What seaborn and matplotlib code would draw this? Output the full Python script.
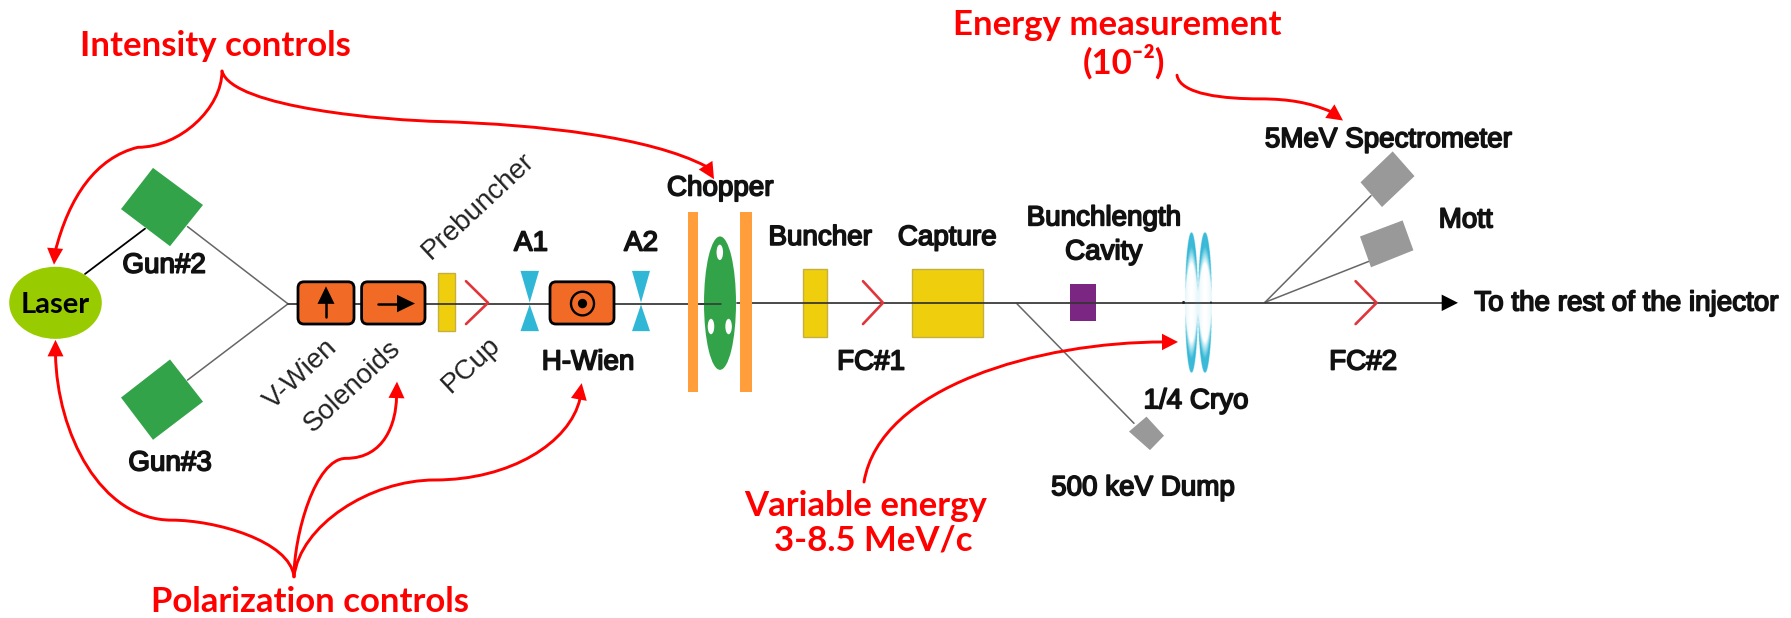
import numpy as np
import pandas as pd
import matplotlib
matplotlib.use("Agg")
import matplotlib.pyplot as plt
import matplotlib.patheffects as pe
import seaborn as sns
from matplotlib.path import Path
from matplotlib.patches import PathPatch, Polygon, Ellipse, Rectangle, FancyBboxPatch, Circle

# ---- diagram content -------------------------------------------------------
gray_lines = [[(187.5, 220), (288, 295)], [(187.5, 369), (288, 295)],
              [(1017, 295), (1134, 411)], [(1265, 293.5), (1371, 190)],
              [(1265, 293.5), (1369, 253.7)]]
black_lines = [[(85, 266), (145, 222)]]
beam_left = [(288, 294.7), (720.5, 294.7)]
beam_right = [(737, 293.7), (1445, 293.7)]

gun_polys = [[(153, 163), (203, 199), (170, 239), (121, 203)],
             [(121, 386), (170, 349), (203, 390), (153, 427)]]
gray_polys = [[(1146.5, 404.5), (1164, 423), (1150, 437), (1129, 419)],
              [(1392.7, 147), (1414.5, 171), (1382, 201), (1360.5, 177)],
              [(1402.6, 214), (1413.4, 243), (1371, 259.5), (1360, 229.6)]]
orange_boxes = [(298, 273.6, 56, 41), (361.6, 273.6, 63.4, 41), (550, 273.6, 64, 41)]
yellow_rects = [(438, 265, 16.6, 56.5), (802.8, 261, 23.8, 66.6), (911.5, 261, 71.5, 66.6)]
plates = [(688, 205.5, 10.4, 175.5), (740, 205.5, 11.5, 175.5)]
purple_rect = (1070, 276, 26, 36)
bowties = [(529.7, 520.5, 539), (641, 632, 650)]
chevrons = [(466, 488), (863, 883), (1355.6, 1376.6)]
rings = [(1191.5, 6.5), (1205, 7)]
beam_dots = [(1183.6, 1.5), (1211, 1.0)]

red_curves = [
    [(222, 69), (222, 105), (180, 143), (138, 143), (96, 153), (69, 191), (55, 245)],
    [(222, 69), (232, 105), (390, 117), (440, 118), (540, 121), (650, 133), (706, 161.5)],
    [(294, 560), (290, 525), (215, 505), (172, 505), (100, 505), (57, 420), (55.5, 344)],
    [(294, 560), (294, 520), (315, 445), (346, 445), (385, 445), (396, 410), (396.5, 386)],
    [(294, 560), (300, 510), (370, 466), (435, 466), (510, 466), (570, 430), (580, 387)],
    [(864, 468), (880, 375), (1040, 332), (1164, 332)],
    [(1177, 73), (1180, 92), (1225, 96), (1260, 96), (1290, 96), (1310, 100), (1330, 108)],
]
red_heads = [((54, 257), (55, 243)), ((714, 174), (706, 161)), ((55.5, 330), (55.5, 344)),
             ((397, 370.5), (396.5, 386)), ((581.7, 372), (579, 387)),
             ((1178, 332), (1162, 332)), ((1343, 117), (1330, 108))]

red_labels = [("Intensity controls", 215, 45), ("Polarization controls", 310, 584),
              ("Energy measurement", 1117, 24), ("(10⁻²)", 1124, 60),
              ("Variable energy", 866, 491), ("3-8.5 MeV/c", 873, 525)]
bold_labels = [("Gun#2", 164, 258), ("Gun#3", 170, 450), ("A1", 531, 236.5), ("A2", 641, 236.5),
               ("H-Wien", 588, 352), ("Chopper", 720, 183), ("Buncher", 820, 231),
               ("Capture", 947, 231), ("Bunchlength", 1103.6, 212), ("Cavity", 1103.6, 245),
               ("FC#1", 871, 352), ("1/4 Cryo", 1196, 389.6), ("500 keV Dump", 1143, 474),
               ("5MeV Spectrometer", 1388, 136), ("Mott", 1465.5, 214),
               ("To the rest of the injector", 1626, 294.7), ("FC#2", 1363, 352)]
tilted_labels = [("Prebuncher", 478, 200), ("V-Wien", 301, 363.5),
                 ("Solenoids", 353, 375), ("PCup", 471.5, 354)]

# ---- colours ---------------------------------------------------------------
RED = "#FF0000"
GREEN = "#33A34A"
ORANGE = "#F26B26"
YELLOW = "#EFCF0D"
BLUE = "#31B7D6"
GRAY = "#999999"

sns.set_theme(style="white")
fig = plt.figure(figsize=(17.91, 6.18), dpi=100)
ax = fig.add_axes([0, 0, 1, 1])


def seg(points, color, lw, z=2):
    frame = pd.DataFrame(points, columns=["x", "y"])
    sns.lineplot(data=frame, x="x", y="y", sort=False, estimator=None, color=color,
                 linewidth=lw, ax=ax, legend=False, zorder=z)


# beam lines
for s in gray_lines:
    seg(s, "#666666", 1.1)
for s in black_lines:
    seg(s, "black", 1.3)
seg(beam_left, "#333333", 1.25, 2)
seg(beam_right, "#333333", 1.25, 2)
ax.add_patch(Polygon([(1441.7, 286), (1458, 294), (1441.7, 302)], fc="black", ec="none", zorder=4))

# laser, guns, dumps
ax.add_patch(Ellipse((55.5, 294), 92.6, 70, fc="#99CC00", ec="none", zorder=3))
for p in gun_polys:
    ax.add_patch(Polygon(p, fc=GREEN, ec="none", zorder=3))
for p in gray_polys:
    ax.add_patch(Polygon(p, fc=GRAY, ec="none", zorder=3))

# Wien filters and solenoids
for x, y, w, h in orange_boxes:
    ax.add_patch(FancyBboxPatch((x + 5, y + 5), w - 10, h - 10, boxstyle="round,pad=5,rounding_size=6",
                                fc=ORANGE, ec="black", lw=2.0, zorder=3))
seg([(326, 308), (326, 290)], "black", 1.8, 4)
ax.add_patch(Polygon([(326, 278), (334.5, 295), (317.5, 295)], fc="black", ec="none", zorder=4))
seg([(378, 294.7), (400, 294.7)], "black", 1.8, 4)
ax.add_patch(Polygon([(415, 294.7), (397, 286.2), (397, 303.2)], fc="black", ec="none", zorder=4))
ax.add_patch(Circle((582.5, 294.7), 11.5, fc="none", ec="black", lw=1.7, zorder=4))
ax.add_patch(Circle((582.5, 294.7), 4.6, fc="black", ec="none", zorder=4))

# yellow cavities
for x, y, w, h in yellow_rects:
    ax.add_patch(Rectangle((x, y), w, h, fc=YELLOW, ec="#C4B040", lw=1.0, zorder=1.5))
ax.add_patch(Rectangle(purple_rect[:2], purple_rect[2], purple_rect[3], fc="#7B2682", ec="none", zorder=1.5))

# apertures
for xc, x0, x1 in bowties:
    ax.add_patch(Polygon([(x0, 263), (x1, 263), (xc, 293.8)], fc=BLUE, ec="none", zorder=3))
    ax.add_patch(Polygon([(x0, 321.5), (x1, 321.5), (xc, 295.6)], fc=BLUE, ec="none", zorder=3))

# faraday cups
for x0, x1 in chevrons:
    seg([(x0, 273), (x1, 294), (x0, 314.6)], "#E0353B", 1.9, 3)

# chopper
for x, y, w, h in plates:
    ax.add_patch(Rectangle((x, y), w, h, fc="#FF9E3B", ec="none", zorder=3))
ax.add_patch(Ellipse((720, 294.3), 32, 129.5, fc=GREEN, ec="none", zorder=3))
seg([(700, 294.7), (720.5, 294.7)], "#333333", 1.1, 3.5)
for xc, yc in [(719.8, 245), (711, 317), (728.6, 317)]:
    ax.add_patch(Ellipse((xc, yc), 6.5, 15, fc="white", ec="none", zorder=4))

# cryo-unit rings: solid tips fading to a pale rim at the waist
yc_ring, b_ring = 293.7, 68.0
rgb = matplotlib.colors.to_rgb(BLUE)
for xc, a in rings:
    gx, gy = np.meshgrid(np.linspace(-1, 1, 60), np.linspace(-1, 1, 300))
    mask = gx ** 2 + gy ** 2 <= 1
    fade = np.clip((np.abs(gy) + 0.45 * gx ** 2 - 0.55) / 0.25, 0, 1) * 0.95 + 0.15 * gx ** 2
    img = np.zeros(gx.shape + (4,))
    img[..., :3] = rgb
    img[..., 3] = np.clip(fade, 0, 1) * mask
    ax.imshow(img, extent=(xc - a, xc + a, yc_ring + b_ring, yc_ring - b_ring), aspect="auto",
              interpolation="bilinear", zorder=2.5)
for x, r in beam_dots:
    ax.add_patch(Circle((x, 293.7), r, fc="#222222", ec="none", zorder=4))

# red annotation curves
for c in red_curves:
    codes = [Path.MOVETO] + [Path.CURVE4] * (len(c) - 1)
    ax.add_patch(PathPatch(Path(c, codes), fc="none", ec=RED, lw=2.1, capstyle="round", zorder=5))
for tip, base in red_heads:
    tip_a, base_a = np.array(tip, float), np.array(base, float)
    d = (tip_a - base_a) / np.linalg.norm(tip_a - base_a)
    n = np.array([-d[1], d[0]])
    back = tip_a - 16 * d
    ax.add_patch(Polygon([tip_a, back + 8 * n, back - 8 * n], fc=RED, ec="none", zorder=5))

# text
for s, x, y in red_labels:
    ax.text(x, y, s, color=RED, family=["Lato", "DejaVu Sans"], weight="bold", fontsize=25,
            ha="center", va="center", zorder=6)
ax.text(55.5, 296, "Laser", color="black", family="Lato", weight="bold", fontsize=21,
        ha="center", va="center", zorder=6)
stroke = [pe.withStroke(linewidth=1.2, foreground="#111111")]
for s, x, y in bold_labels:
    ax.text(x, y, s, color="#111111", family="Liberation Sans", fontsize=20, ha="center",
            va="center", zorder=6, path_effects=stroke)
for s, x, y in tilted_labels:
    ax.text(x, y, s, color="#222222", family="Liberation Sans", fontsize=20, rotation=43,
            rotation_mode="anchor", ha="center", va="center", zorder=6)

ax.set_xlim(0, 1791)
ax.set_ylim(600, 0)
ax.set_axis_off()
fig.savefig("out.png", dpi=100, facecolor="white")
